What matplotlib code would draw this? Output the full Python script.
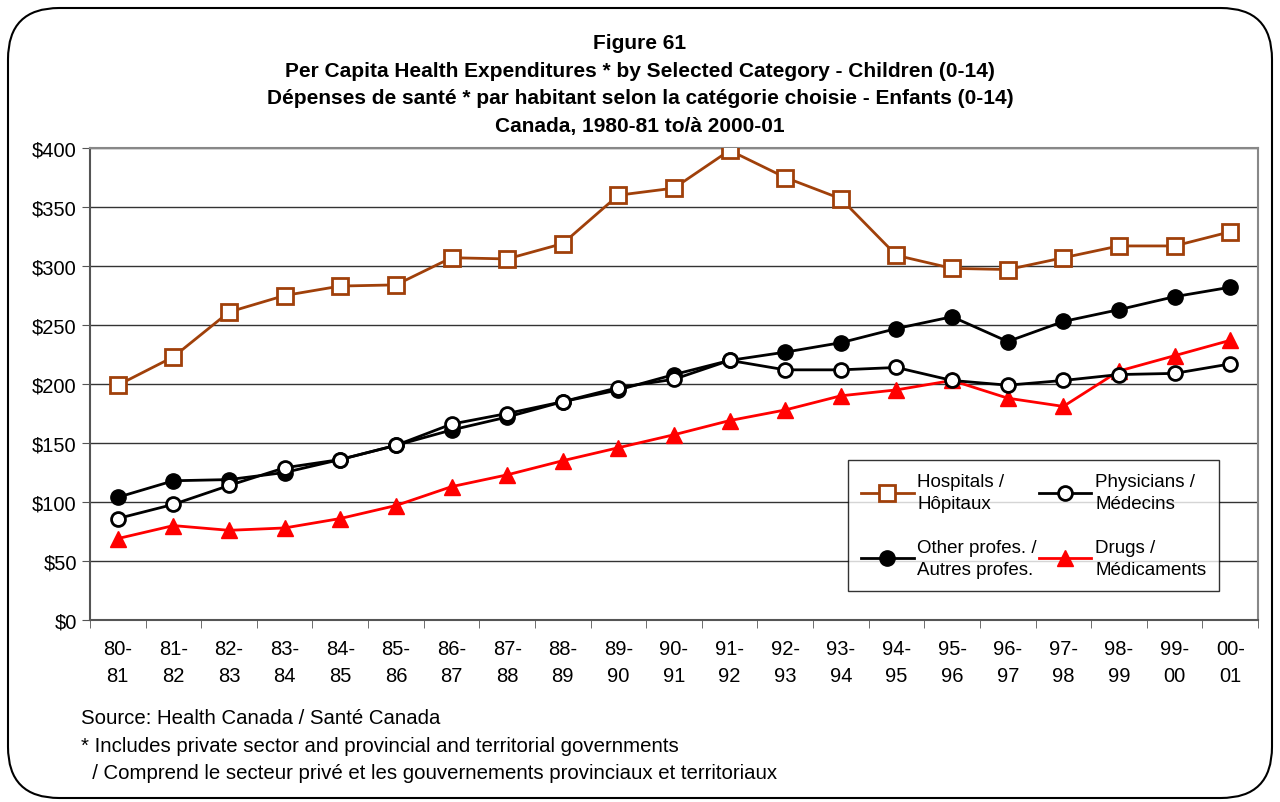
import matplotlib.pyplot as plt
import numpy as np
from matplotlib.patches import FancyBboxPatch
from matplotlib.ticker import FuncFormatter

plt.rcParams['font.family'] = ['Liberation Sans', 'DejaVu Sans']

# Données
years = ['80-\n81', '81-\n82', '82-\n83', '83-\n84', '84-\n85', '85-\n86', '86-\n87',
         '87-\n88', '88-\n89', '89-\n90', '90-\n91', '91-\n92', '92-\n93', '93-\n94',
         '94-\n95', '95-\n96', '96-\n97', '97-\n98', '98-\n99', '99-\n00', '00-\n01']
hospitals = [199, 223, 261, 275, 283, 284, 307, 306, 319, 360, 366, 398, 375, 357,
             309, 298, 297, 307, 317, 317, 329]
physicians = [86, 98, 114, 129, 136, 148, 166, 175, 185, 197, 204, 220, 212, 212,
              214, 203, 199, 203, 208, 209, 217]
other_profs = [104, 118, 119, 125, 136, 148, 161, 172, 185, 195, 208, 220, 227, 235,
               247, 257, 236, 253, 263, 274, 282]
drugs = [69, 80, 76, 78, 86, 97, 113, 123, 135, 146, 157, 169, 178, 190,
         195, 203, 188, 181, 211, 224, 237]

x = np.arange(len(years))

fig = plt.figure(figsize=(12.8, 8.03), dpi=100)

# Cadre arrondi autour de la figure
frame = FancyBboxPatch((8 / 1280, 4 / 803), 1264 / 1280, 790 / 803,
                       boxstyle='round,pad=0,rounding_size=0.04',
                       transform=fig.transFigure, facecolor='none',
                       edgecolor='black', linewidth=1.5, mutation_aspect=1280 / 803,
                       zorder=10)
fig.patches.append(frame)

ax = fig.add_axes([90 / 1280, 1 - 621 / 803, 1168 / 1280, 472 / 803])

h1, = ax.plot(x, hospitals, color='#A0400A', lw=2, marker='s', ms=11, mfc='white',
              mec='#A0400A', mew=2, label='Hospitals /\nHôpitaux', zorder=3)
h2, = ax.plot(x, physicians, color='black', lw=2, marker='o', ms=10, mfc='white',
              mec='black', mew=2, label='Physicians /\nMédecins', zorder=4)
h3, = ax.plot(x, other_profs, color='black', lw=2, marker='o', ms=11, mfc='black',
              mec='black', label='Other profes. /\nAutres profes.', zorder=3)
h4, = ax.plot(x, drugs, color='red', lw=2, marker='^', ms=11, mfc='red', mec='red',
              label='Drugs /\nMédicaments', zorder=3)

ax.set_xlim(-0.5, len(years) - 0.5)
ax.set_ylim(0, 400)
ax.set_yticks(np.arange(0, 401, 50))
ax.yaxis.set_major_formatter(FuncFormatter(lambda v, p: f'${v:.0f}'))
ax.set_xticks(x)
ax.set_xticklabels(years)
ax.set_xticks(np.arange(-0.5, len(years), 1), minor=True)
ax.tick_params(axis='x', which='major', length=0, pad=14, labelsize=14.5)
ax.tick_params(axis='x', which='minor', length=6, direction='out', color='#555555')
ax.tick_params(axis='y', length=6, labelsize=14.5, color='#555555')
for lbl in ax.get_xticklabels():
    lbl.set_linespacing(1.5)

ax.grid(axis='y', color='#333333', lw=1)
ax.set_axisbelow(True)
for s in ['top', 'right']:
    ax.spines[s].set_color('#888888')
    ax.spines[s].set_linewidth(1.5)
for s in ['left', 'bottom']:
    ax.spines[s].set_color('#555555')
    ax.spines[s].set_linewidth(1.5)

# ordre pour remplir ligne par ligne
leg = ax.legend([h1, h3, h2, h4], [h1.get_label(), h3.get_label(), h2.get_label(), h4.get_label()],
                ncol=2, loc='upper left', bbox_to_anchor=(0.649, 0.339),
                fontsize=13.5, frameon=True, fancybox=False, edgecolor='black',
                handlelength=2.8, handletextpad=0.2, columnspacing=0.1,
                labelspacing=1.4, borderpad=0.7, borderaxespad=0)
leg.get_frame().set_linewidth(1)
for t in leg.get_texts():
    t.set_linespacing(1.4)

titre = ('Figure 61\n'
         'Per Capita Health Expenditures * by Selected Category - Children (0-14)\n'
         'Dépenses de santé * par habitant selon la catégorie choisie - Enfants (0-14)\n'
         'Canada, 1980-81 to/à 2000-01')
fig.text(640 / 1280, 1 - 34 / 803, titre, ha='center', va='top', fontsize=15,
         fontweight='bold', linespacing=1.58)

notes = ('Source: Health Canada / Santé Canada\n'
         '* Includes private sector and provincial and territorial governments\n'
         '  / Comprend le secteur privé et les gouvernements provinciaux et territoriaux')
fig.text(81 / 1280, 1 - 709 / 803, notes, ha='left', va='top', fontsize=14.7,
         linespacing=1.58)

fig.savefig('out.png', dpi=100)
